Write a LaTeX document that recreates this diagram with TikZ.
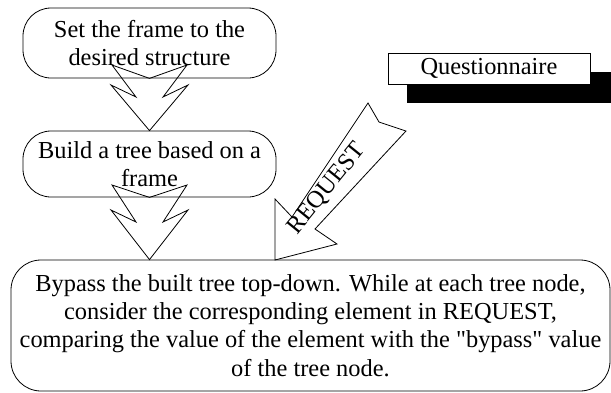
\documentclass[tikz,border=0pt]{standalone}
\usepackage{fontspec}
\setmainfont{Liberation Serif}
\begin{document}
\begin{tikzpicture}[x=1pt,y=-1pt,
  every node/.style={font=\fontsize{24.4}{28.3}\selectfont},
  box/.style={draw, line width=0.8pt, inner sep=0pt, align=center},
  blockarrow/.style={draw, line width=0.8pt, line join=miter}]
\useasboundingbox (0,0) rectangle (611,392);
% boxes
\node[box, rounded corners=28pt, minimum width=253pt, minimum height=70pt] (b1) at (149.5,43) {Set the frame to the\\desired structure};
\node[box, rounded corners=28pt, minimum width=253pt, minimum height=66pt] (b2) at (149.5,164) {Build a tree based on a\\frame};
\node[box, rounded corners=30pt, minimum width=599pt, minimum height=131pt] (b3) at (310.5,325.5) {Bypass the built tree top-down. While at each tree node,\\consider the corresponding element in REQUEST,\\comparing the value of the element with the \textquotedbl bypass\textquotedbl{} value\\of the tree node.};
% questionnaire with shadow
\node[fill=black, inner sep=0pt, minimum width=204pt, minimum height=31pt] (qs) at (509,87.5) {};
\node[box, fill=white, minimum width=202pt, minimum height=31pt] (q) at (489,68.5) {Questionnaire};
% block arrows
\coordinate (t1) at (b2.north);
\coordinate (t2) at (b3.north -| b1.south);
\draw[blockarrow] (112,65) -- (b1.south) -- (187,65) -- (163,97) -- (188,85) -- (t1) -- (111,85) -- (136,97) -- cycle;
\draw[blockarrow] (112,185) -- (b2.south) -- (187,185) -- (163,222) -- (188,210) -- (t2) -- (111,210) -- (136,222) -- cycle;
\coordinate (t3) at (275,260);
\draw[blockarrow] (t3) -- (275,199) -- (292,217) -- (368,103) -- (379,122) -- (406,131) -- (315,229) -- (337,244) -- cycle;
\node[rotate=51, inner sep=0pt] (req) at (327,189) {REQUEST};
\end{tikzpicture}
\end{document}
